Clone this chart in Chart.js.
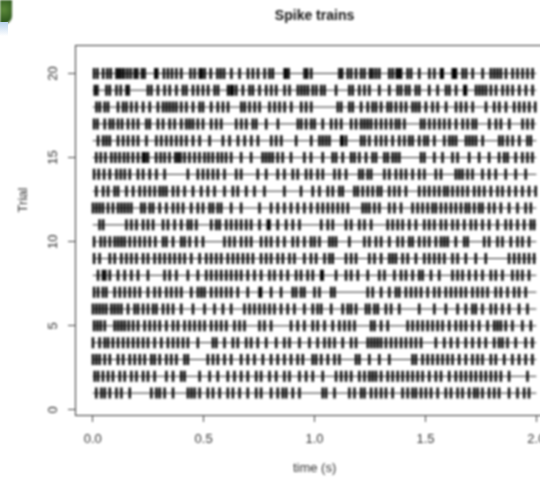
<!DOCTYPE html>
<html>
<head>
<meta charset="utf-8">
<script src="https://cdn.jsdelivr.net/npm/chart.js@4.4.1/dist/chart.umd.min.js"></script>
<style>
  html, body { margin: 0; padding: 0; background: #fff; overflow: hidden; }
  #wrap { position: relative; width: 540px; height: 477px; overflow: hidden; }
  #c { position: absolute; left: 0; top: 0; filter: blur(0.9px); }
  .leaf { position: absolute; left: 0; top: 0; width: 12px; height: 24px;
          background: radial-gradient(circle at 30% 40%, #5d8a3a, #2f5a1e 70%);
          border-bottom-right-radius: 8px; filter: blur(0.8px); }
  .sky { position: absolute; left: 0; top: 22px; width: 8px; height: 14px;
         background: linear-gradient(#b9d3ee, #fff); }
  .paren { position: absolute; left: -4px; top: 76px; font: 14px "Liberation Sans", sans-serif; color: #555; }
</style>
</head>
<body>
<div id="wrap">
  <canvas id="c" width="562" height="477"></canvas>
  <div class="leaf"></div><div class="sky"></div><span class="paren">)</span>
</div>
<script>
// spike times in ms, one array per trial
const spikes1 = [16, 39, 54, 77, 107, 129, 167, 264, 287, 302, 324, 362, 429, 444, 459, 482, 519, 542, 572, 609, 632, 662, 699, 737, 759, 804, 834, 857, 872, 902, 932, 1037, 1052, 1090, 1157, 1180, 1210, 1225, 1255, 1277, 1300, 1322, 1352, 1397, 1420, 1442, 1457, 1480, 1502, 1525, 1555, 1592, 1615, 1645, 1667, 1697, 1720, 1735, 1757, 1787, 1810, 1832, 1877, 1915, 1945, 1967];
const spikes2 = [9, 24, 46, 69, 91, 122, 144, 174, 197, 227, 249, 279, 332, 362, 399, 414, 482, 527, 564, 609, 639, 669, 699, 737, 759, 797, 827, 864, 887, 932, 962, 992, 1037, 1097, 1120, 1142, 1165, 1202, 1225, 1247, 1262, 1277, 1300, 1330, 1352, 1375, 1397, 1420, 1442, 1465, 1487, 1517, 1547, 1570, 1607, 1637, 1660, 1682, 1705, 1727, 1750, 1772, 1795, 1817, 1840, 1877, 1960];
const spikes3 = [1, 16, 31, 54, 77, 114, 137, 167, 189, 212, 234, 264, 279, 302, 332, 354, 377, 414, 429, 519, 542, 564, 594, 624, 669, 699, 729, 767, 804, 834, 864, 894, 924, 947, 992, 1007, 1030, 1060, 1090, 1112, 1187, 1202, 1247, 1292, 1337, 1442, 1457, 1487, 1510, 1532, 1555, 1577, 1600, 1622, 1652, 1682, 1712, 1735, 1757, 1795, 1817, 1855, 1892, 1922, 1952, 1982];
const spikes4 = [1, 31, 54, 69, 91, 114, 137, 159, 182, 204, 227, 249, 279, 309, 339, 362, 384, 407, 429, 474, 542, 557, 594, 632, 654, 692, 714, 744, 782, 827, 864, 887, 932, 977, 1014, 1045, 1067, 1090, 1127, 1165, 1187, 1240, 1255, 1270, 1285, 1300, 1322, 1345, 1367, 1390, 1412, 1435, 1457, 1480, 1547, 1585, 1615, 1645, 1682, 1712, 1742, 1772, 1810, 1832, 1847, 1870, 1907, 1952, 1982];
const spikes5 = [6, 21, 36, 54, 99, 114, 129, 144, 162, 182, 204, 234, 257, 279, 302, 332, 362, 384, 414, 437, 459, 482, 504, 534, 557, 579, 602, 639, 662, 684, 752, 774, 804, 894, 924, 954, 992, 1014, 1045, 1082, 1112, 1135, 1157, 1180, 1255, 1270, 1300, 1330, 1420, 1442, 1465, 1487, 1510, 1532, 1555, 1577, 1607, 1637, 1660, 1682, 1712, 1742, 1780, 1810, 1825, 1840, 1862, 1892, 1937, 1975];
const spikes6 = [1, 16, 31, 46, 61, 84, 99, 114, 129, 159, 189, 204, 227, 249, 272, 287, 317, 339, 362, 399, 452, 504, 549, 587, 624, 684, 707, 729, 752, 774, 797, 819, 849, 879, 909, 954, 992, 1014, 1030, 1075, 1127, 1150, 1165, 1187, 1232, 1247, 1270, 1285, 1322, 1345, 1382, 1472, 1540, 1592, 1645, 1682, 1712, 1727, 1757, 1795, 1817, 1847, 1877, 1922, 1960];
const spikes7 = [6, 24, 46, 61, 99, 122, 144, 167, 189, 212, 249, 279, 302, 332, 354, 377, 399, 444, 474, 489, 504, 534, 557, 579, 602, 624, 654, 699, 752, 759, 804, 849, 902, 917, 939, 954, 1000, 1022, 1075, 1090, 1240, 1262, 1300, 1337, 1367, 1382, 1412, 1435, 1457, 1480, 1510, 1540, 1562, 1592, 1615, 1637, 1660, 1682, 1712, 1735, 1757, 1780, 1817, 1840, 1870, 1900, 1922, 1952];
const spikes8 = [24, 46, 57, 77, 114, 144, 174, 204, 249, 324, 347, 377, 429, 474, 512, 534, 557, 579, 602, 624, 647, 669, 699, 729, 759, 797, 819, 849, 879, 917, 939, 969, 992, 1030, 1037, 1097, 1142, 1165, 1195, 1240, 1292, 1315, 1360, 1390, 1412, 1442, 1472, 1487, 1525, 1562, 1622, 1645, 1667, 1697, 1727, 1757, 1795, 1817, 1847, 1892, 1915, 1937, 1967];
const spikes9 = [6, 31, 77, 99, 129, 152, 174, 197, 227, 249, 279, 302, 324, 347, 369, 392, 414, 444, 482, 512, 534, 557, 579, 609, 632, 654, 677, 699, 722, 759, 782, 804, 834, 857, 887, 909, 954, 984, 1007, 1045, 1067, 1082, 1142, 1165, 1187, 1247, 1270, 1300, 1337, 1352, 1367, 1397, 1420, 1457, 1495, 1517, 1540, 1562, 1585, 1622, 1645, 1682, 1727, 1772, 1877, 1900, 1922, 1945, 1967, 1990];
const spikes10 = [6, 36, 54, 77, 99, 114, 129, 144, 167, 189, 212, 234, 257, 282, 317, 332, 362, 399, 414, 437, 467, 497, 594, 617, 639, 669, 692, 714, 759, 782, 804, 834, 864, 902, 924, 954, 984, 1000, 1022, 1067, 1082, 1097, 1157, 1225, 1247, 1277, 1300, 1337, 1375, 1397, 1427, 1442, 1472, 1495, 1517, 1547, 1570, 1585, 1600, 1637, 1675, 1690, 1765, 1787, 1825, 1847, 1885, 1915, 1937, 1967];
const spikes11 = [31, 47, 152, 174, 197, 227, 249, 272, 317, 339, 369, 399, 429, 444, 467, 534, 557, 572, 602, 624, 647, 669, 692, 714, 752, 789, 797, 834, 872, 902, 932, 1030, 1060, 1082, 1142, 1165, 1202, 1225, 1255, 1330, 1352, 1375, 1397, 1427, 1457, 1495, 1517, 1540, 1570, 1592, 1622, 1645, 1675, 1705, 1727, 1757, 1787, 1825, 1862, 1885, 1915, 1945, 1975, 1990];
const spikes12 = [1, 16, 31, 46, 69, 91, 114, 129, 144, 159, 174, 219, 234, 257, 272, 302, 332, 362, 384, 407, 444, 474, 497, 527, 542, 564, 579, 624, 669, 752, 804, 834, 864, 894, 924, 954, 984, 1014, 1037, 1060, 1082, 1105, 1127, 1150, 1217, 1232, 1247, 1270, 1292, 1337, 1360, 1390, 1442, 1465, 1487, 1510, 1532, 1547, 1570, 1592, 1615, 1637, 1660, 1682, 1697, 1720, 1742, 1757, 1787, 1810, 1840, 1877, 1915, 1952, 1975];
const spikes13 = [16, 47, 69, 99, 114, 152, 182, 212, 234, 257, 279, 302, 317, 332, 362, 384, 414, 452, 489, 519, 549, 594, 632, 654, 692, 729, 774, 864, 939, 992, 1022, 1060, 1082, 1112, 1127, 1180, 1195, 1217, 1240, 1262, 1285, 1300, 1337, 1360, 1382, 1412, 1472, 1495, 1517, 1540, 1562, 1585, 1600, 1622, 1645, 1667, 1690, 1720, 1742, 1765, 1795, 1825, 1847, 1877, 1907, 1937, 1967, 1997];
const spikes14 = [6, 27, 51, 77, 107, 126, 144, 167, 204, 227, 257, 287, 324, 429, 474, 497, 519, 542, 564, 594, 647, 669, 744, 782, 834, 864, 902, 924, 962, 984, 1014, 1037, 1090, 1112, 1142, 1202, 1217, 1240, 1255, 1315, 1337, 1367, 1390, 1412, 1442, 1472, 1495, 1547, 1570, 1637, 1652, 1667, 1690, 1712, 1757, 1787, 1817, 1862, 1907, 1952];
const spikes15 = [16, 36, 57, 84, 102, 121, 141, 159, 181, 204, 226, 237, 249, 286, 306, 324, 346, 372, 384, 396, 414, 436, 459, 481, 504, 522, 541, 564, 582, 601, 624, 669, 714, 766, 781, 796, 811, 834, 856, 894, 954, 984, 1037, 1082, 1097, 1127, 1165, 1180, 1202, 1232, 1262, 1277, 1315, 1330, 1352, 1367, 1382, 1480, 1495, 1540, 1577, 1622, 1645, 1697, 1742, 1787, 1832, 1855, 1870, 1907, 1937, 1960, 1982];
const spikes16 = [24, 47, 62, 77, 114, 137, 159, 182, 204, 242, 287, 309, 332, 354, 377, 399, 422, 452, 482, 527, 587, 617, 655, 685, 715, 745, 805, 827, 850, 917, 985, 1022, 1037, 1052, 1067, 1120, 1127, 1142, 1210, 1225, 1247, 1277, 1300, 1322, 1352, 1382, 1405, 1427, 1442, 1472, 1495, 1510, 1540, 1585, 1608, 1623, 1638, 1683, 1698, 1713, 1728, 1758, 1833, 1848, 1870, 1893, 1923, 1960, 1975];
const spikes17 = [6, 21, 54, 77, 92, 114, 132, 159, 182, 204, 242, 257, 294, 317, 347, 369, 399, 422, 437, 452, 474, 497, 534, 557, 579, 647, 670, 692, 722, 737, 782, 835, 925, 940, 962, 985, 1000, 1037, 1075, 1097, 1120, 1165, 1187, 1210, 1225, 1240, 1255, 1277, 1300, 1322, 1345, 1367, 1382, 1405, 1480, 1495, 1518, 1540, 1563, 1585, 1608, 1638, 1668, 1690, 1713, 1728, 1788, 1818, 1840, 1878, 1938, 1960, 1983];
const spikes18 = [17, 32, 54, 69, 114, 137, 152, 174, 197, 227, 257, 294, 317, 332, 347, 362, 377, 399, 422, 452, 482, 497, 534, 564, 587, 610, 670, 685, 707, 730, 752, 797, 820, 842, 865, 895, 940, 962, 985, 1105, 1120, 1157, 1172, 1210, 1240, 1262, 1277, 1300, 1330, 1345, 1367, 1390, 1412, 1442, 1457, 1472, 1502, 1532, 1555, 1593, 1638, 1660, 1683, 1713, 1773, 1810, 1833, 1863, 1900, 1923, 1945, 1968, 1995];
const spikes19 = [9, 21, 62, 77, 107, 126, 152, 162, 249, 264, 294, 324, 347, 377, 407, 422, 452, 474, 497, 520, 550, 565, 610, 622, 632, 647, 677, 707, 722, 752, 782, 805, 827, 865, 887, 925, 940, 955, 970, 992, 1008, 1030, 1045, 1097, 1157, 1172, 1202, 1225, 1247, 1292, 1337, 1375, 1390, 1412, 1427, 1457, 1472, 1517, 1555, 1593, 1608, 1638, 1675, 1683, 1728, 1743, 1758, 1773, 1795, 1818, 1848, 1870, 1893, 1923, 1953, 1983];
const spikes20 = [6, 21, 47, 66, 81, 107, 117, 129, 141, 156, 171, 189, 201, 222, 234, 282, 291, 321, 339, 357, 377, 399, 441, 459, 482, 492, 505, 532, 562, 577, 592, 625, 662, 700, 722, 745, 775, 797, 812, 865, 872, 883, 955, 967, 985, 1112, 1124, 1150, 1165, 1187, 1210, 1225, 1250, 1262, 1277, 1292, 1337, 1352, 1370, 1379, 1390, 1420, 1435, 1472, 1518, 1540, 1570, 1578, 1623, 1630, 1638, 1668, 1683, 1713, 1758, 1795, 1810, 1825, 1840, 1863, 1893, 1915, 1938, 1960, 1983];

const trials = [spikes1, spikes2, spikes3, spikes4, spikes5, spikes6, spikes7, spikes8, spikes9, spikes10,
                spikes11, spikes12, spikes13, spikes14, spikes15, spikes16, spikes17, spikes18, spikes19, spikes20];
const trialStart = 0;
const trialEnd = 2;
const xTicks = [0, 0.5, 1, 1.5, 2];
const xTickLabels = ['0.0', '0.5', '1.0', '1.5', '2.0'];
const yTicks = [0, 5, 10, 15, 20];

const font = { family: '"Liberation Sans", Arial, sans-serif', size: 13 };

const baseLines = trials.map((s, i) => ({
  type: 'line',
  data: [{ x: trialStart, y: i + 1 }, { x: trialEnd, y: i + 1 }],
  borderColor: '#333',
  borderWidth: 1,
  pointRadius: 0,
  order: 2
}));

const spikeSets = trials.map((s, i) => ({
  type: 'scatter',
  data: s.map(ms => ({ x: ms / 1000, y: i + 1 })),
  pointStyle: 'line',
  pointRotation: 90,
  pointRadius: 5.5,
  pointBorderColor: '#000',
  pointBorderWidth: 2.4,
  order: 1
}));

// box round the plot and the rotated y label
const frame = {
  id: 'frame',
  afterDatasetsDraw(chart) {
    const { ctx, chartArea: a } = chart;
    ctx.save();
    ctx.strokeStyle = '#333';
    ctx.lineWidth = 1;
    ctx.strokeRect(Math.round(a.left) + 0.5, Math.round(a.top) + 0.5,
                   Math.round(a.right - a.left), Math.round(a.bottom - a.top));
    ctx.translate(23, 200);
    ctx.rotate(-Math.PI / 2);
    ctx.font = '13px "Liberation Sans", Arial, sans-serif';
    ctx.fillStyle = '#333';
    ctx.textAlign = 'center';
    ctx.textBaseline = 'middle';
    ctx.fillText('Trial', 0, 0);
    ctx.restore();
  }
};

new Chart('c', {
  data: { datasets: [...baseLines, ...spikeSets] },
  options: {
    responsive: false,
    animation: false,
    events: [],
    layout: { padding: { left: 0, right: 7, top: 0, bottom: 0 } },
    plugins: {
      legend: { display: false },
      tooltip: { enabled: false },
      title: {
        display: true,
        text: 'Spike trains',
        fullSize: false,
        color: '#111',
        font: { family: font.family, size: 14, weight: 'bold' },
        padding: { top: 8, bottom: 20 }
      }
    },
    scales: {
      x: {
        type: 'linear',
        min: -0.08,
        max: 2.08,
        afterBuildTicks: s => { s.ticks = xTicks.map(v => ({ value: v })); },
        afterFit: s => { s.height = 62; },
        ticks: {
          autoSkip: false,
          maxRotation: 0,
          padding: 10,
          color: '#333',
          font: font,
          callback: (v, i) => xTickLabels[i]
        },
        grid: { drawOnChartArea: false, drawTicks: true, tickLength: 7, color: '#444' },
        border: { display: false },
        title: { display: true, text: 'time (s)', color: '#333', font: font, padding: { top: 0, bottom: 1 } }
      },
      y: {
        type: 'linear',
        min: -0.3,
        max: 21.7,
        afterBuildTicks: s => { s.ticks = yTicks.map(v => ({ value: v })); },
        afterFit: s => { s.width = 75; },
        ticks: {
          autoSkip: false,
          minRotation: 90,
          maxRotation: 90,
          crossAlign: 'center',
          padding: 7,
          color: '#333',
          font: font
        },
        grid: { drawOnChartArea: false, drawTicks: true, tickLength: 7, color: '#444' },
        border: { display: false }
      }
    }
  },
  plugins: [frame]
});
</script>
</body>
</html>
